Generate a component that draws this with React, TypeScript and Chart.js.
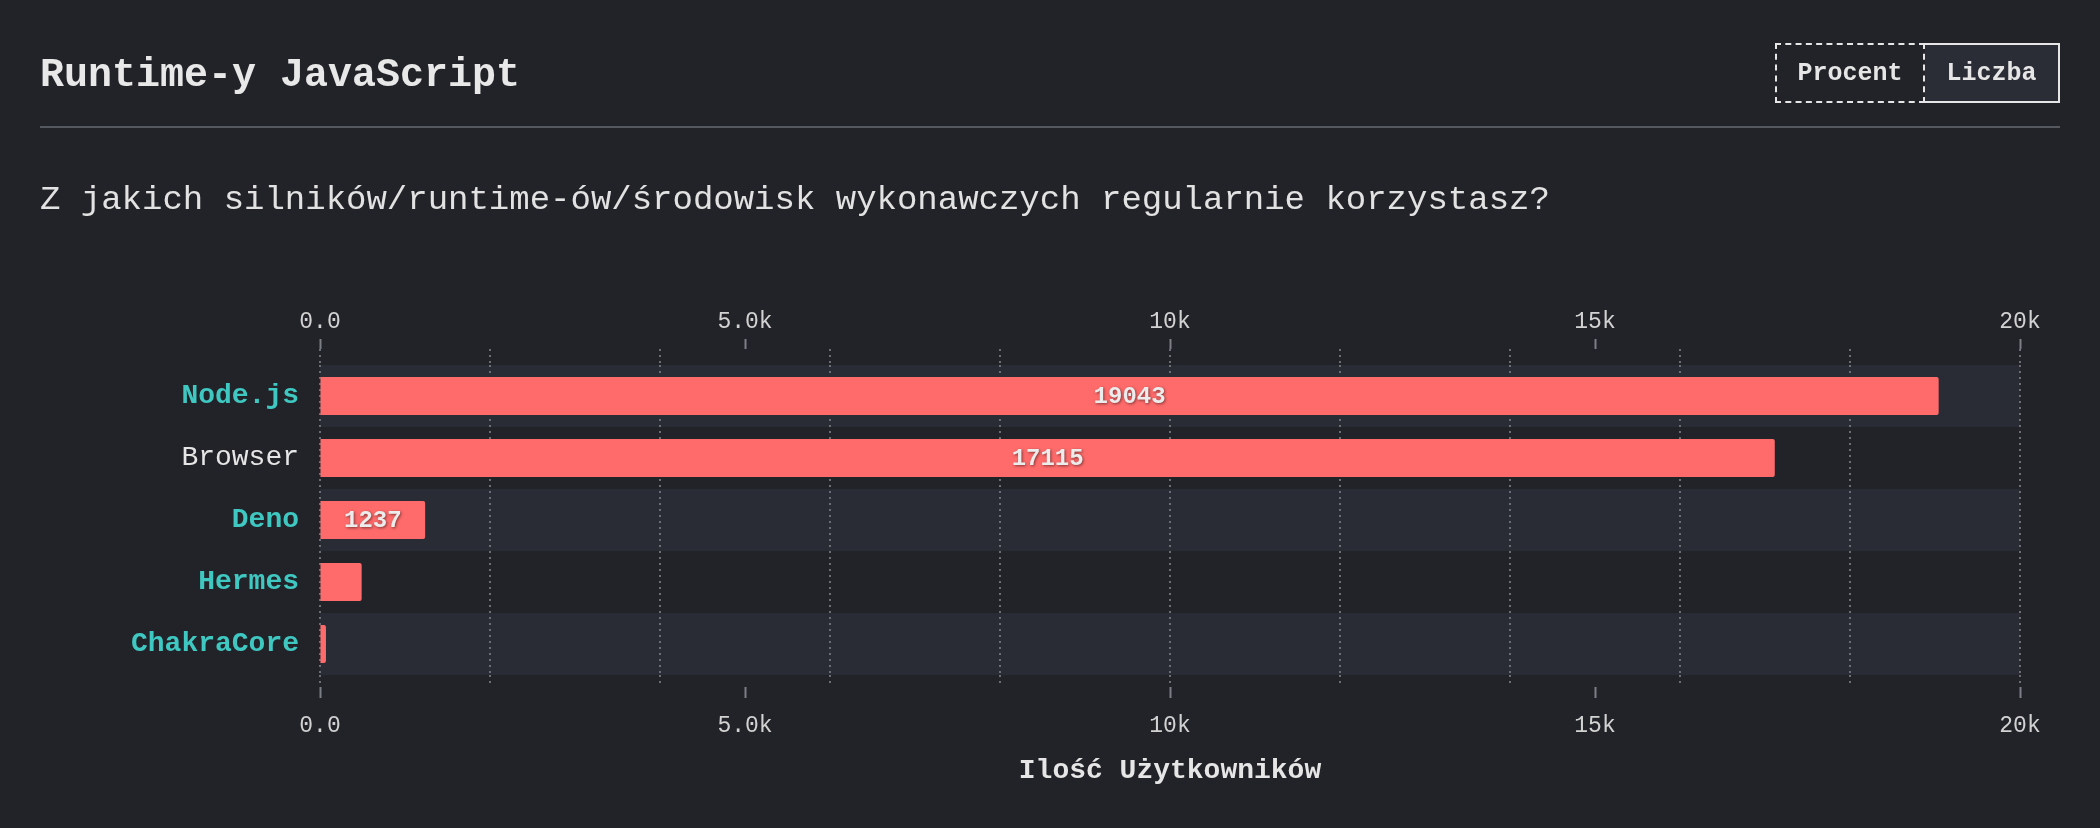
import React, { useEffect, useRef } from 'react';
import { Chart, registerables } from 'chart.js';

Chart.register(...registerables);

// ---- data ----
const categories = ['Node.js', 'Browser', 'Deno', 'Hermes', 'ChakraCore'];
const userCounts = [19043, 17115, 1237, 490, 70];
const categoryHighlighted = [true, false, true, true, true];
const xTickValues = [0, 5000, 10000, 15000, 20000];
const xTickLabels = ['0.0', '5.0k', '10k', '15k', '20k'];
const xGridValues = [0, 2000, 4000, 6000, 8000, 10000, 12000, 14000, 16000, 18000, 20000];
const xMin = 0;
const xMax = 20000;
const chartTitle = 'Runtime-y JavaScript';
const question = 'Z jakich silników/runtime-ów/środowisk wykonawczych regularnie korzystasz?';
const axisTitle = 'Ilość Użytkowników';
const toggleLabels = ['Procent', 'Liczba'];

// ---- style ----
const FONT = '"Liberation Mono", "DejaVu Sans Mono", monospace';
const BG = '#222328';
const BAND = '#292c34';
const BAR = '#ff6b6b';
const TEAL = '#3fc8c2';
const TEXT = '#e6e6e6';
const TICK_TEXT = '#d2d2d2';
const GRID = '#6b6e75';
const TICK_MARK = '#7c7f86';

const bandPlugin = {
  id: 'rowBands',
  beforeDraw(chart: any) {
    const { ctx, chartArea, scales } = chart;
    const y = scales.y;
    const half = (y.getPixelForValue(1) - y.getPixelForValue(0)) / 2;
    ctx.save();
    ctx.fillStyle = BAND;
    categories.forEach((_, i) => {
      if (i % 2 === 0) {
        const c = y.getPixelForValue(i);
        ctx.fillRect(chartArea.left, c - half, chartArea.right - chartArea.left, half * 2);
      }
    });
    ctx.restore();
  },
};

const valueLabelPlugin = {
  id: 'valueLabels',
  afterDatasetsDraw(chart: any) {
    const { ctx } = chart;
    const meta = chart.getDatasetMeta(0);
    ctx.save();
    ctx.font = `bold 24px ${FONT}`;
    ctx.textAlign = 'center';
    ctx.textBaseline = 'middle';
    meta.data.forEach((bar: any, i: number) => {
      const { x, y, base } = bar.getProps(['x', 'y', 'base'], true);
      const text = String(userCounts[i]);
      const w = ctx.measureText(text).width;
      if (Math.abs(x - base) < w + 24) return;
      ctx.shadowColor = 'rgba(0,0,0,0.5)';
      ctx.shadowBlur = 3;
      ctx.shadowOffsetX = 1;
      ctx.shadowOffsetY = 1;
      ctx.fillStyle = '#ececec';
      ctx.fillText(text, (x + base) / 2, y + 1);
    });
    ctx.restore();
  },
};

const labelAxis = (
  position: string,
  weight: number,
  tickLength: number,
  padding: number,
  height: number,
  withTitle: boolean
) => ({
  type: 'linear',
  axis: 'x',
  position,
  weight,
  min: xMin,
  max: xMax,
  afterBuildTicks: (s: any) => {
    s.ticks = xTickValues.map((v) => ({ value: v }));
  },
  afterFit: (s: any) => {
    s.height = height;
  },
  ticks: {
    callback: (_v: any, index: number) => xTickLabels[index],
    color: TICK_TEXT,
    font: { family: FONT, size: 23 },
    padding,
    maxRotation: 0,
    autoSkip: false,
  },
  grid: {
    drawOnChartArea: false,
    drawTicks: true,
    tickLength,
    tickColor: TICK_MARK,
    tickWidth: 2,
  },
  border: { display: false },
  title: withTitle
    ? {
        display: true,
        text: axisTitle,
        color: TEXT,
        font: { family: FONT, size: 28, weight: 'bold' },
        padding: { top: 15, bottom: 0 },
      }
    : { display: false },
});

const gridAxis = (position: string, drawOnChartArea: boolean, tickLength: number) => ({
  type: 'linear',
  axis: 'x',
  position,
  weight: 0,
  min: xMin,
  max: xMax,
  afterBuildTicks: (s: any) => {
    s.ticks = xGridValues.map((v) => ({ value: v }));
  },
  afterFit: (s: any) => {
    s.height = tickLength;
  },
  ticks: { display: false },
  grid: {
    drawOnChartArea,
    drawTicks: true,
    tickLength,
    color: GRID,
    lineWidth: 2,
    tickColor: GRID,
    tickWidth: 2,
    tickBorderDash: [2, 4],
  },
  border: { display: false, dash: [2, 4] },
});

function BarChart() {
  const ref = useRef<HTMLCanvasElement | null>(null);
  useEffect(() => {
    if (!ref.current) return;
    const chart = new Chart(ref.current, {
      type: 'bar',
      data: {
        labels: categories,
        datasets: [
          {
            data: userCounts,
            backgroundColor: BAR,
            barPercentage: 0.613,
            categoryPercentage: 1,
            borderRadius: 2,
            xAxisID: 'x',
            yAxisID: 'y',
          },
        ],
      },
      options: {
        indexAxis: 'y',
        responsive: false,
        maintainAspectRatio: false,
        devicePixelRatio: 1,
        animation: false,
        layout: { padding: { top: 309, right: 80, bottom: 40, left: 0 } },
        plugins: { legend: { display: false }, tooltip: { enabled: false }, title: { display: false } },
        scales: {
          x: labelAxis('top', 1, 10, 3, 40, false),
          xGridTop: gridAxis('top', true, 16),
          xGridBottom: gridAxis('bottom', false, 12),
          xBottom: labelAxis('bottom', 1, 11, 14, 101, true),
          y: {
            type: 'category',
            position: 'left',
            offset: true,
            grid: { display: false, drawTicks: false },
            border: { display: false },
            ticks: {
              padding: 21,
              color: (ctx: any) => (categoryHighlighted[ctx.index] ? TEAL : TEXT),
              font: (ctx: any) => ({
                family: FONT,
                size: 28,
                weight: categoryHighlighted[ctx.index] ? 'bold' : 'normal',
              }),
            },
            afterFit: (s: any) => {
              s.width = 320;
            },
          },
        } as any,
      },
      plugins: [bandPlugin, valueLabelPlugin],
    } as any);
    return () => chart.destroy();
  }, []);
  return (
    <canvas
      ref={ref}
      width={2100}
      height={828}
      style={{ position: 'absolute', left: 0, top: 0, width: 2100, height: 828 }}
    />
  );
}

export default function App() {
  return (
    <div
      style={{
        position: 'fixed',
        left: 0,
        top: 0,
        width: 2100,
        height: 828,
        background: BG,
        overflow: 'hidden',
        fontFamily: FONT,
        color: TEXT,
      }}
    >
      <BarChart />
      <div
        style={{
          position: 'absolute',
          left: 40,
          top: 56,
          fontSize: 40,
          lineHeight: '40px',
          fontWeight: 'bold',
          color: '#e8e8e8',
          whiteSpace: 'nowrap',
        }}
      >
        {chartTitle}
      </div>
      <div style={{ position: 'absolute', left: 1775, top: 43, display: 'flex', height: 60 }}>
        <div
          style={{
            width: 150,
            height: 60,
            boxSizing: 'border-box',
            border: '2px dashed #e6e6e6',
            display: 'flex',
            alignItems: 'center',
            justifyContent: 'center',
            fontSize: 25,
            fontWeight: 'bold',
          }}
        >
          {toggleLabels[0]}
        </div>
        <div
          style={{
            width: 135,
            height: 60,
            boxSizing: 'border-box',
            border: '2px solid #e6e6e6',
            borderLeft: 'none',
            background: '#2a2d35',
            display: 'flex',
            alignItems: 'center',
            justifyContent: 'center',
            fontSize: 25,
            fontWeight: 'bold',
          }}
        >
          {toggleLabels[1]}
        </div>
      </div>
      <div style={{ position: 'absolute', left: 40, top: 126, width: 2020, height: 2, background: '#55585f' }} />
      <div
        style={{
          position: 'absolute',
          left: 40,
          top: 183,
          fontSize: 34,
          lineHeight: '34px',
          color: '#e2e2e2',
          whiteSpace: 'nowrap',
        }}
      >
        {question}
      </div>
    </div>
  );
}
